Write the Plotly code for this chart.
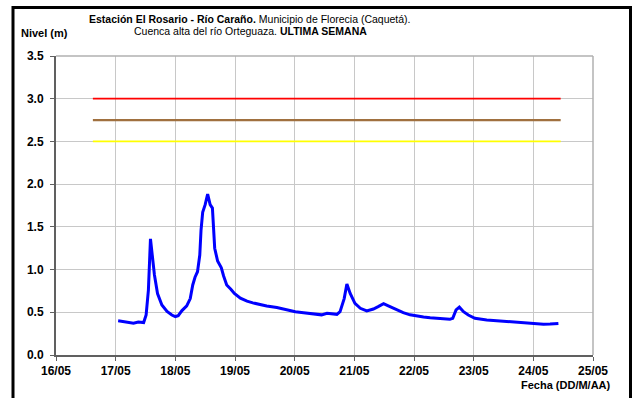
import plotly.graph_objects as go

# Hourly-ish readings of river level (m), station El Rosario, Río Caraño
fechas = [
    "2011-05-17 01:00", "2011-05-17 03:35", "2011-05-17 05:50", "2011-05-17 07:10",
    "2011-05-17 09:05", "2011-05-17 11:15", "2011-05-17 12:15", "2011-05-17 13:10",
    "2011-05-17 14:00", "2011-05-17 14:40", "2011-05-17 15:35", "2011-05-17 16:50",
    "2011-05-17 18:35", "2011-05-17 20:40", "2011-05-17 22:35", "2011-05-18 00:00",
    "2011-05-18 01:10", "2011-05-18 02:40", "2011-05-18 04:35", "2011-05-18 06:00",
    "2011-05-18 07:00", "2011-05-18 07:55", "2011-05-18 08:55", "2011-05-18 09:50",
    "2011-05-18 10:20", "2011-05-18 11:00", "2011-05-18 12:00", "2011-05-18 13:00",
    "2011-05-18 14:00", "2011-05-18 14:55", "2011-05-18 15:50", "2011-05-18 17:00",
    "2011-05-18 18:30", "2011-05-18 19:25", "2011-05-18 20:40", "2011-05-18 22:20",
    "2011-05-18 23:45", "2011-05-19 02:10", "2011-05-19 04:50", "2011-05-19 07:10",
    "2011-05-19 10:05", "2011-05-19 12:45", "2011-05-19 16:50", "2011-05-19 20:55",
    "2011-05-20 00:15", "2011-05-20 03:35", "2011-05-20 06:15", "2011-05-20 08:55",
    "2011-05-20 10:50", "2011-05-20 13:00", "2011-05-20 14:55", "2011-05-20 17:00",
    "2011-05-20 18:15", "2011-05-20 19:10", "2011-05-20 19:55", "2011-05-20 21:00",
    "2011-05-20 22:20", "2011-05-21 00:15", "2011-05-21 02:25", "2011-05-21 05:00",
    "2011-05-21 07:40", "2011-05-21 09:35", "2011-05-21 11:45", "2011-05-21 13:40",
    "2011-05-21 16:20", "2011-05-21 19:40", "2011-05-21 22:25", "2011-05-22 01:10",
    "2011-05-22 03:50", "2011-05-22 06:30", "2011-05-22 09:05", "2011-05-22 11:45",
    "2011-05-22 14:25", "2011-05-22 15:35", "2011-05-22 16:55", "2011-05-22 18:15",
    "2011-05-22 19:55", "2011-05-22 21:50", "2011-05-23 00:30", "2011-05-23 05:15",
    "2011-05-23 10:35", "2011-05-23 13:55", "2011-05-23 17:15", "2011-05-23 20:40",
    "2011-05-24 00:00", "2011-05-24 04:05", "2011-05-24 06:45", "2011-05-24 10:05",
]
nivel = [
    0.40, 0.385, 0.378, 0.372,
    0.386, 0.38, 0.47, 0.76,
    1.36, 1.19, 0.94, 0.72,
    0.585, 0.51, 0.468, 0.45,
    0.46, 0.52, 0.575, 0.66,
    0.82, 0.91, 0.975, 1.17,
    1.46, 1.67, 1.76, 1.885,
    1.76, 1.72, 1.25, 1.10,
    1.02, 0.925, 0.82, 0.77,
    0.72, 0.665, 0.63, 0.61,
    0.59, 0.574, 0.556, 0.527,
    0.507, 0.495, 0.485, 0.476,
    0.47, 0.488, 0.48, 0.476,
    0.507, 0.58, 0.66, 0.83,
    0.72, 0.605, 0.547, 0.515,
    0.538, 0.566, 0.60, 0.574,
    0.535, 0.495, 0.47, 0.455,
    0.445, 0.436, 0.43, 0.42,
    0.418, 0.43, 0.527, 0.56,
    0.507, 0.468, 0.43, 0.41,
    0.398, 0.39, 0.378, 0.373,
    0.37, 0.359, 0.362, 0.37,
]

# Alert thresholds (m)
umbral_inicio = "2011-05-16 14:50"
umbral_fin = "2011-05-24 11:00"
umbral_rojo = 3.0
umbral_naranja = 2.75
umbral_amarillo = 2.5

FONT = "Liberation Sans, Arial, sans-serif"

fig = go.Figure()

for valor, color, ancho in [
    (umbral_rojo, "#FF0000", 1.8),
    (umbral_naranja, "#A0703F", 2.2),
    (umbral_amarillo, "#FFFF00", 1.8),
]:
    fig.add_trace(go.Scatter(
        x=[umbral_inicio, umbral_fin], y=[valor, valor], mode="lines",
        line=dict(color=color, width=ancho), hoverinfo="skip", showlegend=False,
    ))

fig.add_trace(go.Scatter(
    x=fechas, y=nivel, mode="lines",
    line=dict(color="#0000FF", width=3), showlegend=False,
))

L, R, T, B = 56, 593, 56, 355
W, H = 634, 398


def px(x):
    return (x - L) / (R - L)


def py(y):
    return (B - y) / (B - T)


fig.update_layout(
    width=W, height=H,
    margin=dict(l=L, r=W - R, t=T, b=H - B, pad=0),
    paper_bgcolor="white", plot_bgcolor="white",
    font=dict(family=FONT, color="black"),
    xaxis=dict(
        type="date",
        range=["2011-05-16 00:00", "2011-05-25 00:00"],
        dtick=86400000, tick0="2011-05-16",
        tickformat="%d/%m",
        tickfont=dict(size=12, weight="bold", family=FONT, color="black"),
        showgrid=True, gridcolor="#C8C8C8", gridwidth=1,
        showline=True, linecolor="#606060", linewidth=2,
        ticks="outside", ticklen=4, tickcolor="#606060", tickwidth=1,
        zeroline=False, fixedrange=True,
    ),
    yaxis=dict(
        range=[0, 3.5], dtick=0.5, tick0=0, tickformat=".1f",
        tickfont=dict(size=12, weight="bold", family=FONT, color="black"),
        showgrid=True, gridcolor="#C8C8C8", gridwidth=1,
        showline=True, linecolor="#606060", linewidth=2,
        ticks="outside", ticklen=4, tickcolor="#606060", tickwidth=1,
        ticklabelstandoff=4,
        zeroline=False, fixedrange=True,
    ),
    shapes=[
        # light border on top/right of plotting area
        dict(type="line", xref="paper", yref="paper", x0=0, x1=1, y0=1, y1=1,
             line=dict(color="#B0B0B0", width=1.5)),
        dict(type="line", xref="paper", yref="paper", x0=1, x1=1, y0=0, y1=1,
             line=dict(color="#B0B0B0", width=1.5)),
        # outer black frame
        dict(type="rect", xref="paper", yref="paper",
             x0=px(13), x1=px(630.5), y0=py(410), y1=py(7.5),
             line=dict(color="black", width=3), fillcolor="rgba(0,0,0,0)"),
    ],
    annotations=[
        dict(xref="paper", yref="paper", x=px(250), y=py(19), xanchor="center", yanchor="middle",
             text="<b>Estación El Rosario - Río Caraño.</b> Municipio de Florecia (Caquetá).",
             showarrow=False, font=dict(size=10.5, family=FONT, color="black")),
        dict(xref="paper", yref="paper", x=px(250), y=py(31), xanchor="center", yanchor="middle",
             text="Cuenca alta del río Orteguaza. <b>ULTIMA SEMANA</b>",
             showarrow=False, font=dict(size=10.5, family=FONT, color="black")),
        dict(xref="paper", yref="paper", x=px(19), y=py(33.5), xanchor="left", yanchor="middle",
             text="<b>Nivel (m)</b>", showarrow=False,
             font=dict(size=11, family=FONT, color="black")),
        dict(xref="paper", yref="paper", x=px(613), y=py(384.5), xanchor="right", yanchor="middle",
             text="<b>Fecha (DD/M/AA)</b>", showarrow=False,
             font=dict(size=11, family=FONT, color="black")),
    ],
)

fig.write_html("out.html")
